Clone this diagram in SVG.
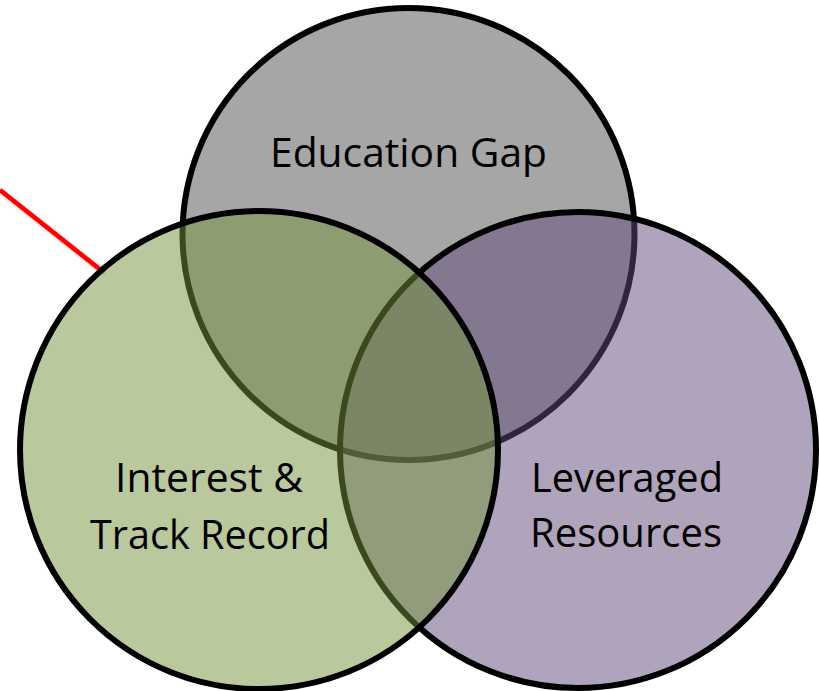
<svg xmlns="http://www.w3.org/2000/svg" width="819" height="691" viewBox="0 0 819 691">
  <style>
    .circ { stroke: #000; stroke-width: 6; }
    .lbl { font-family: "Open Sans", "Liberation Sans", sans-serif; font-size: 41px; fill: #000; text-anchor: middle; }
  </style>
  <defs>
    <filter id="shadow" x="-20%" y="-20%" width="140%" height="140%">
      <feDropShadow dx="2" dy="2" stdDeviation="1.5" flood-color="#000" flood-opacity="0.35"/>
    </filter>
  </defs>
  <rect width="819" height="691" fill="#fff"/>
  <g id="connectors">
    <line x1="0" y1="190" x2="102" y2="271" stroke="#ff0000" stroke-width="4.5" filter="url(#shadow)"/>
  </g>
  <g id="education-gap">
    <circle class="circ" cx="408.5" cy="234" r="226" fill="#a6a6a6"/>
  </g>
  <g id="leveraged-resources">
    <circle class="circ" cx="578" cy="450" r="238" fill="#5f497a" fill-opacity="0.5"/>
  </g>
  <g id="interest-track-record">
    <circle class="circ" cx="259" cy="450" r="239" fill="#76923c" fill-opacity="0.5"/>
  </g>
  <g id="labels">
    <text class="lbl" x="408.5" y="167" textLength="277" lengthAdjust="spacingAndGlyphs">Education Gap</text>
    <text class="lbl" x="209" y="492" textLength="188" lengthAdjust="spacingAndGlyphs">Interest &amp;</text>
    <text class="lbl" x="210" y="549" textLength="240" lengthAdjust="spacingAndGlyphs">Track Record</text>
    <text class="lbl" x="627" y="492" textLength="192" lengthAdjust="spacingAndGlyphs">Leveraged</text>
    <text class="lbl" x="626" y="547" textLength="192" lengthAdjust="spacingAndGlyphs">Resources</text>
  </g>
</svg>
